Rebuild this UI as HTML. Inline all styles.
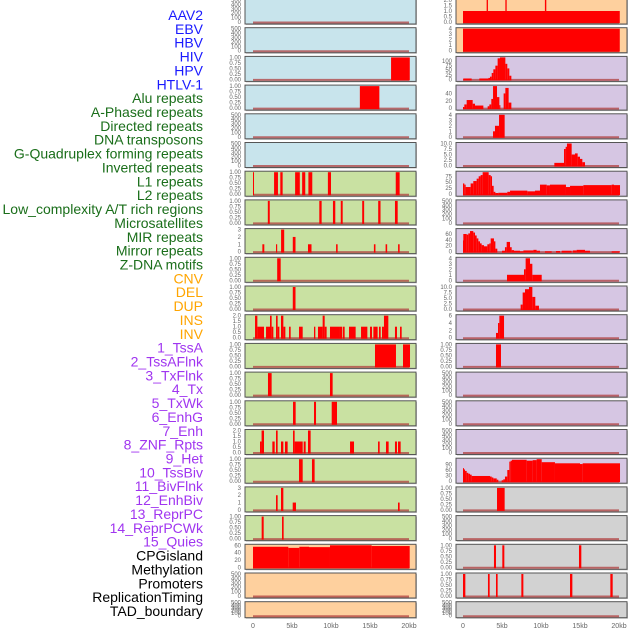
<!DOCTYPE html>
<html><head><meta charset="utf-8"><style>
html,body{margin:0;padding:0;background:#fff;}
svg{display:block;font-family:"Liberation Sans",sans-serif;}
</style></head><body>
<svg id="chart" width="630" height="630" viewBox="0 0 630 630" xmlns="http://www.w3.org/2000/svg"></svg>
<script>
const labels = ["AAV2","EBV","HBV","HIV","HPV","HTLV-1","Alu repeats","A-Phased repeats","Directed repeats","DNA transposons","G-Quadruplex forming repeats","Inverted repeats","L1 repeats","L2 repeats","Low_complexity A/T rich regions","Microsatellites","MIR repeats","Mirror repeats","Z-DNA motifs","CNV","DEL","DUP","INS","INV","1_TssA","2_TssAFlnk","3_TxFlnk","4_Tx","5_TxWk","6_EnhG","7_Enh","8_ZNF_Rpts","9_Het","10_TssBiv","11_BivFlnk","12_EnhBiv","13_ReprPC","14_ReprPCWk","15_Quies","CPGisland","Methylation","Promoters","ReplicationTiming","TAD_boundary"];
const labelGroups = [6,13,5,15,5];
const groupColors = ["#1a1aff","#1a6e1a","#ffa500","#a035f0","#000000"];
const xTicks = [0,5,10,15,20];
const xTickLabels = ["0","5kb","10kb","15kb","20kb"];
const leftColors = ["b","b","b","b","b","b","g","g","g","g","g","g","g","g","g","g","g","g","g","o","o","o"];
const rightColors = ["o","o","p","p","p","p","p","p","p","p","p","p","p","p","p","p","p","y","y","y","y","y"];
// each panel: max, tick values, tick labels, segments [startKb,endKb,value]
const E = {max:500,ticks:[0,100,200,300,400,500],tl:["0","100","200","300","400","500"],segs:[]};
function P1(segs){return {max:1,ticks:[0,0.25,0.5,0.75,1],tl:["0.00","0.25","0.50","0.75","1.00"],segs:segs};}
const leftPanels = [
 E, E,
 P1([[17.7,20.1,1]]),
 P1([[13.7,16.2,1]]),
 E, E,
 P1([[0,0.1,1],[2.7,3.2,1],[3.5,3.8,1],[5.4,6.0,1],[6.3,6.7,1],[7.1,7.6,1],[9.6,10.0,1],[18.3,18.8,1]]),
 P1([[1.9,2.15,1],[8.5,8.8,1],[10.25,10.55,1],[11.25,11.5,1],[14.0,14.25,1],[16.05,16.35,1],[18.2,18.55,1]]),
 {max:3,ticks:[0,1,2,3],tl:["0","1","2","3"],segs:[[1.2,1.45,1],[2.95,3.1,1],[3.6,4.0,3],[5.1,5.45,2],[7.05,7.5,1],[10.65,10.85,1],[15.5,15.7,1],[17.0,17.2,1],[18.6,18.8,1]]},
 P1([[3.1,3.55,1]]),
 P1([[5.1,5.45,1]]),
 {max:2,ticks:[0,0.5,1,1.5,2],tl:["0.0","0.5","1.0","1.5","2.0"],segs:[[0.26,0.56,2],[0.56,1.41,1],[1.67,2.18,1],[2.18,2.39,2],[2.39,2.61,1],[2.95,3.16,2],[3.16,3.38,1],[3.59,3.89,2],[3.89,4.15,1],[4.62,4.83,1],[5.9,6.37,1],[7.82,7.99,1],[8.33,8.93,1],[8.93,9.19,2],[9.19,9.44,1],[9.87,11.15,1],[11.15,11.45,1],[11.54,11.75,1],[12.31,13.16,1],[13.85,14.66,1],[15.0,15.26,1],[15.43,15.98,1],[16.15,16.37,1],[16.54,16.79,1],[16.79,17.35,2],[18.2,18.46,1],[18.85,19.06,1]]},
 P1([[15.64,18.33,1],[19.23,20.13,1]]),
 P1([[1.92,2.39,1],[9.87,10.21,1]]),
 P1([[5.13,5.47,1],[7.82,8.08,1],[10.09,10.77,1]]),
 {max:2,ticks:[0,0.5,1,1.5,2],tl:["0.0","0.5","1.0","1.5","2.0"],segs:[[0.9,1.1,1],[1.1,1.41,2],[2.48,2.78,1],[2.95,3.16,2],[3.59,3.89,1],[4.1,4.44,1],[5.13,5.34,2],[5.34,6.37,1],[6.5,6.75,1],[7.05,7.39,2],[12.44,12.95,1],[16.03,16.24,1],[17.05,17.39,1],[18.2,18.46,1],[18.59,18.93,1]]},
 P1([[5.9,6.37,1],[7.56,7.9,1]]),
 {max:3,ticks:[0,1,2,3],tl:["0","1","2","3"],segs:[[2.95,3.16,2],[3.59,3.89,3],[5.09,5.51,1],[18.59,18.8,1]]},
 P1([[1.11,1.37,1],[3.72,3.93,1]]),
 {max:60,ticks:[0,20,40,60],tl:["0","20","40","60"],segs:[[0,4.53,56],[4.53,5.94,53],[5.94,7.18,56],[7.18,9.87,55],[9.87,15.21,60],[15.21,20.09,58]]},
 E, E
];
const rightPanels = [
 {max:2,ticks:[0,0.5,1,1.5,2],tl:["0.0","0.5","1.0","1.5","2.0"],segs:[[0,20.1,1],[3.03,3.2,2],[5.43,5.6,2],[10.5,10.68,2]]},
 {max:4,ticks:[0,1,2,3,4],tl:["0","1","2","3","4"],segs:[[0,20.1,4]]},
 {max:120,ticks:[0,25,50,75,100],tl:["0","25","50","75","100"],segs:[[0.04,1.11,5],[2.09,3.25,5],[3.25,3.46,8],[3.46,3.68,15],[3.68,3.89,35],[3.89,4.15,55],[4.15,4.44,75],[4.44,4.74,115],[4.74,5.43,120],[5.43,5.68,85],[5.68,5.94,60],[5.94,6.2,20]]},
 {max:60,ticks:[0,20,40],tl:["0","20","40"],segs:[[0,0.17,3],[0.17,0.47,10],[0.47,1.24,22],[1.24,1.54,12],[1.54,2.61,7],[3.16,3.38,5],[3.38,3.63,10],[3.63,3.85,25],[3.85,4.36,60],[4.36,4.66,30],[4.66,4.79,8],[5.21,5.43,40],[5.43,5.85,55],[5.85,6.2,15]]},
 {max:4,ticks:[0,1,2,3,4],tl:["0","1","2","3","4"],segs:[[3.85,4.1,1],[4.1,4.62,2],[4.62,5.34,4]]},
 {max:10,ticks:[0,2.5,5,7.5,10],tl:["0.0","2.5","5.0","7.5","10.0"],segs:[[11.71,12.95,1.2],[12.95,13.16,7.5],[13.16,13.33,8.5],[13.33,13.93,10],[13.93,14.36,5],[14.36,14.7,5.5],[14.7,15.0,4],[15.0,15.3,3],[15.3,15.64,1.5]]},
 {max:92,ticks:[0,25,50,75],tl:["0","25","50","75"],segs:[[0,0.17,45],[0.17,0.34,40],[0.34,0.98,30],[0.98,1.32,45],[1.32,1.75,55],[1.75,2.01,65],[2.01,2.26,75],[2.26,2.52,80],[2.52,3.29,92],[3.29,3.55,80],[3.55,3.72,75],[3.72,3.93,35],[3.93,4.15,10],[4.15,4.53,5],[4.53,5.68,6],[5.68,6.03,10],[6.03,8.25,15],[8.25,9.23,12],[9.23,9.87,15],[9.87,10.73,40],[10.73,11.15,37],[11.15,13.2,40],[13.2,13.72,30],[13.72,15.43,35],[15.43,19.06,38],[19.06,19.36,40],[19.36,20.13,38]]},
 E,
 {max:75,ticks:[0,20,40,60],tl:["0","20","40","60"],segs:[[0,0.04,38],[0.04,0.47,60],[0.47,0.68,58],[0.68,0.9,62],[0.9,1.32,70],[1.32,1.54,65],[1.54,1.75,55],[1.75,1.97,45],[1.97,2.18,35],[2.18,2.39,28],[2.39,2.69,22],[2.69,3.12,18],[3.12,3.38,25],[3.38,3.55,28],[3.55,3.97,45],[3.97,4.15,35],[4.15,4.4,10],[5.0,5.38,3],[5.38,5.6,15],[5.6,6.03,33],[6.03,6.24,15],[6.24,6.54,5],[6.54,7.31,3],[7.31,7.74,1],[7.74,9.02,4],[9.02,9.44,6],[9.44,9.87,3],[10.51,11.37,1],[11.92,12.44,2],[12.65,13.93,3],[14.06,14.57,4],[14.57,15.64,6],[15.64,16.28,3],[19.06,20.13,1]]},
 {max:4,ticks:[0,1,2,3,4],tl:["0","1","2","3","4"],segs:[[5.64,7.82,1],[7.82,8.03,2],[8.03,8.59,4],[8.59,8.89,3],[8.89,10.09,1]]},
 {max:10,ticks:[0,2.5,5,7.5,10],tl:["0.0","2.5","5.0","7.5","10.0"],segs:[[7.39,7.65,2],[7.65,7.95,7.5],[7.95,8.46,9],[8.46,8.89,10],[8.89,9.27,5.5],[9.27,9.74,1.5]]},
 {max:6,ticks:[0,2,4,6],tl:["0","2","4","6"],segs:[[4.23,4.49,1.3],[4.49,4.66,4],[4.66,5.26,6]]},
 P1([[4.23,4.87,1]]),
 E, E, E,
 {max:118,ticks:[0,30,60,90],tl:["0","30","60","90"],segs:[[0,0.04,70],[0.04,0.26,63],[0.26,0.47,55],[0.47,0.68,45],[0.68,0.9,40],[0.9,1.11,35],[1.11,3.46,28],[3.46,3.68,25],[3.68,3.89,20],[3.89,4.32,15],[4.32,4.53,8],[4.96,5.17,5],[5.17,5.38,10],[5.38,5.68,25],[5.68,5.94,60],[5.94,6.11,105],[6.11,6.28,110],[6.28,8.16,115],[8.16,8.93,110],[8.93,9.44,113],[9.44,10.09,118],[10.09,11.79,102],[11.79,15.0,96],[15.0,15.34,92],[15.34,20.13,96]]},
 P1([[4.36,5.34,1]]),
 E,
 P1([[3.97,4.23,1],[5.04,5.3,1],[14.87,15.17,1]]),
 P1([[0,0.3,1],[3.2,3.42,1],[4.23,4.44,1],[7.48,7.74,1],[13.72,14.02,1],[18.89,19.19,1]]),
 E
];
const bgMap = {b:"#c8e4ec",g:"#c9e1a2",o:"#fed09e",p:"#d6c6e3",y:"#d2d2d2"};
const NS = "http://www.w3.org/2000/svg";
const svg = document.getElementById('chart');
function mk(tag, attrs, parent){const e=document.createElementNS(NS,tag);for(const k in attrs)e.setAttribute(k,attrs[k]);(parent||svg).appendChild(e);return e;}

// labels
let li=0;
labelGroups.forEach((n,g)=>{for(let k=0;k<n;k++){
  const t=mk('text',{x:203,y:15+li*13.86+5,'text-anchor':'end','font-size':'14',fill:groupColors[g]});
  
  
  t.textContent=labels[li];li++;}});

const cols=[{x0:245,x1:416,z:253,data:leftPanels,bg:leftColors},{x0:456,x1:627,z:463,data:rightPanels,bg:rightColors}];
const kbPx=7.8;
cols.forEach((c,ci)=>{
  const xs=kb=>c.z+kb*kbPx;
  c.data.forEach((p,i)=>{
    const top=i*28.7-1, h=(i===21?16:25), bot=top+h;
    const ys=v=>bot-2-v/p.max*(h-3);
    const g=mk('g',{});
    
    
    mk('rect',{x:c.x0+1,y:top+1,width:c.x1-c.x0,height:h,fill:'#9a9a9a',opacity:0.6},g);
    mk('rect',{x:c.x0,y:top,width:c.x1-c.x0,height:h,fill:bgMap[c.bg[i]],stroke:'#555',"stroke-width":1},g);
    mk('line',{x1:xs(0),x2:xs(20),y1:bot-1.5,y2:bot-1.5,stroke:'#b04040','stroke-width':2,opacity:0.75},g);
    p.segs.forEach(s=>{
      const r=mk('rect',{x:xs(s[0]),y:ys(s[2]),width:Math.max(1,xs(s[1])-xs(s[0])),height:ys(0)-ys(s[2])+1,fill:'#ff0000'},g);
      
      
    });
    p.ticks.forEach((tv,k)=>{
      const t=mk('text',{x:c.x0-4,y:ys(tv)+2,'text-anchor':'end','font-size':'6',fill:'#666'},g);
      
      
      t.textContent=p.tl[k];
    });
  });
  xTicks.forEach((kb,k)=>{
    const t=mk('text',{x:xs(kb),y:628,'text-anchor':'middle','font-size':'7',fill:'#666'});
    
    
    t.textContent=xTickLabels[k];
  });
});
</script>
</body></html>
